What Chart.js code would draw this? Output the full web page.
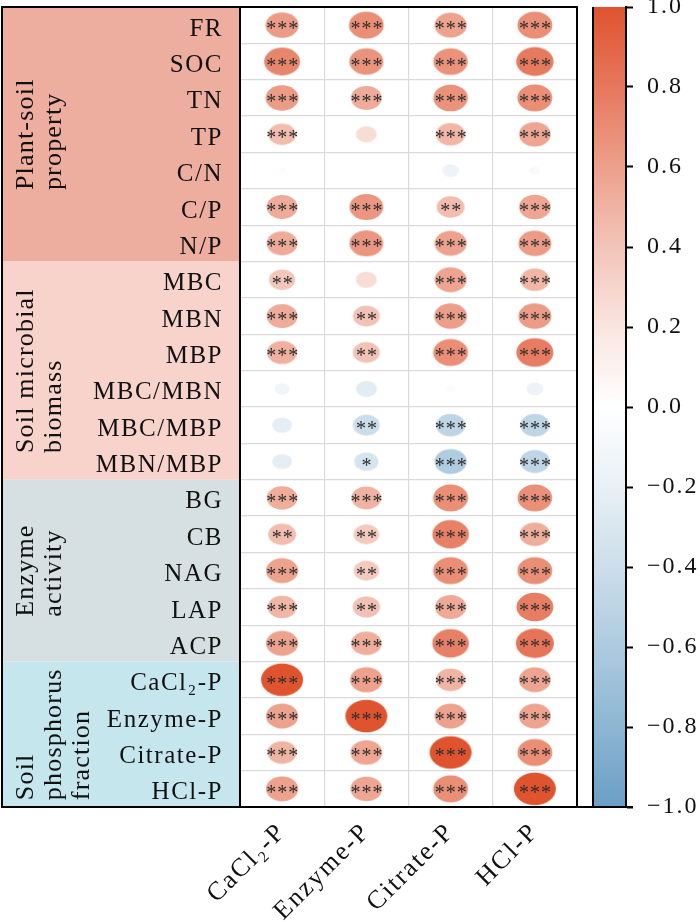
<!DOCTYPE html>
<html>
<head>
<meta charset="utf-8">
<script src="https://cdn.jsdelivr.net/npm/chart.js@4.4.1/dist/chart.umd.min.js"></script>
<style>
  html, body { margin: 0; padding: 0; background: #fff; }
  canvas { display: block; }
</style>
</head>
<body>
<canvas id="corrChart" width="700" height="922"></canvas>
<script>
// rows (y) and columns (x) of the correlation matrix
const rowNames = ["FR", "SOC", "TN", "TP", "C/N", "C/P", "N/P",
  "MBC", "MBN", "MBP", "MBC/MBN", "MBC/MBP", "MBN/MBP",
  "BG", "CB", "NAG", "LAP", "ACP",
  "CaCl₂-P", "Enzyme-P", "Citrate-P", "HCl-P"];
const colNames = ["CaCl₂-P", "Enzyme-P", "Citrate-P", "HCl-P"];

// row groups shown on the left
const groupNames = [["Plant-soil", "property"], ["Soil microbial", "biomass"],
  ["Enzyme", "activity"], ["Soil", "phosphorus", "fraction"]];
const groupSizes = [7, 6, 5, 4];

// correlation coefficients, one list per column
const rCaCl2 = [0.62, 0.73, 0.62, 0.44, 0.04, 0.54, 0.54, 0.39, 0.54, 0.51, -0.13, -0.22, -0.22,
  0.53, 0.44, 0.59, 0.48, 0.59, 1.00, 0.59, 0.49, 0.59];
const rEnzyme = [0.69, 0.66, 0.54, 0.25, 0.01, 0.65, 0.65, 0.25, 0.41, 0.41, -0.25, -0.41, -0.33,
  0.50, 0.37, 0.37, 0.42, 0.53, 0.60, 1.00, 0.57, 0.57];
const rCitrate = [0.59, 0.67, 0.67, 0.48, -0.16, 0.44, 0.59, 0.58, 0.61, 0.69, -0.05, -0.49, -0.59,
  0.69, 0.76, 0.69, 0.55, 0.76, 0.49, 0.59, 1.00, 0.69];
const rHCl = [0.69, 0.79, 0.69, 0.57, -0.07, 0.57, 0.62, 0.48, 0.62, 0.78, -0.16, -0.49, -0.50,
  0.68, 0.53, 0.69, 0.77, 0.82, 0.58, 0.58, 0.69, 1.00];

// significance marks
const sigCaCl2 = ["***", "***", "***", "***", "", "***", "***", "**", "***", "***", "", "", "",
  "***", "**", "***", "***", "***", "***", "***", "***", "***"];
const sigEnzyme = ["***", "***", "***", "", "", "***", "***", "", "**", "**", "", "**", "*",
  "***", "**", "**", "**", "***", "***", "***", "***", "***"];
const sigCitrate = ["***", "***", "***", "***", "", "**", "***", "***", "***", "***", "", "***", "***",
  "***", "***", "***", "***", "***", "***", "***", "***", "***"];
const sigHCl = ["***", "***", "***", "***", "", "***", "***", "***", "***", "***", "", "***", "***",
  "***", "***", "***", "***", "***", "***", "***", "***", "***"];

const cbTicks = [-1.0, -0.8, -0.6, -0.4, -0.2, 0.0, 0.2, 0.4, 0.6, 0.8, 1.0];

const groupColors = ["#EEAE9F", "#F7D3CB", "#D6DFE1", "#C6E6EE"];
const colorStops = [
  [-1.0, [107, 159, 198]], [-0.8, [140, 182, 211]], [-0.6, [173, 203, 223]],
  [-0.4, [204, 222, 234]], [-0.2, [232, 240, 246]], [0.0, [255, 255, 255]],
  [0.2, [250, 229, 223]], [0.4, [243, 196, 184]], [0.6, [237, 160, 139]],
  [0.8, [230, 120, 93]], [1.0, [223, 83, 47]]
];
const serif = "'Liberation Serif', 'Times New Roman', serif";

function corrColor(r) {
  for (let i = 1; i < colorStops.length; i++) {
    const [v1, c1] = colorStops[i];
    if (r <= v1) {
      const [v0, c0] = colorStops[i - 1];
      const t = (r - v0) / (v1 - v0);
      const c = c0.map((ch, k) => Math.round(ch + (c1[k] - ch) * t));
      return `rgb(${c[0]},${c[1]},${c[2]})`;
    }
  }
  return "rgb(223,83,47)";
}

// ellipse marker, area proportional to |r|
const ellipseCache = {};
function ellipseImage(r) {
  const key = r.toFixed(3);
  if (ellipseCache[key]) return ellipseCache[key];
  const a = Math.sqrt(Math.abs(r));
  const w = 42 * a, h = 32.5 * a;
  const c = document.createElement("canvas");
  c.width = 2 * Math.ceil(w / 2 + 2);
  c.height = 2 * Math.ceil(h / 2 + 2);
  const g = c.getContext("2d");
  g.fillStyle = corrColor(r);
  g.beginPath();
  g.ellipse(c.width / 2, c.height / 2, w / 2, h / 2, 0, 0, Math.PI * 2);
  g.fill();
  ellipseCache[key] = c;
  return c;
}

const columns = [[rCaCl2, sigCaCl2], [rEnzyme, sigEnzyme], [rCitrate, sigCitrate], [rHCl, sigHCl]];
const datasets = columns.map(([vals, sigs], j) => ({
  label: colNames[j],
  data: vals.map((v, i) => ({ x: colNames[j], y: rowNames[i], r: v, s: sigs[i] })),
  pointRadius: 3,
  pointStyle: (ctx) => ellipseImage(ctx.raw ? ctx.raw.r : 0.1),
  yAxisID: "y"
}));

const panelPlugin = {
  id: "panel",
  beforeDraw(chart) {
    const { ctx, chartArea, scales } = chart;
    const y = scales.y, cb = scales.cb;
    const half = Math.abs(y.getPixelForValue(1) - y.getPixelForValue(0)) / 2;
    ctx.save();
    // group blocks and their titles
    let start = 0;
    groupSizes.forEach((n, g) => {
      const top = y.getPixelForValue(start) - half;
      const bottom = y.getPixelForValue(start + n - 1) + half;
      ctx.fillStyle = groupColors[g];
      ctx.fillRect(2, top, chartArea.left - 2, bottom - top);
      ctx.font = `26px ${serif}`;
      ctx.letterSpacing = "1.2px";
      ctx.fillStyle = "#111";
      ctx.textAlign = "left";
      ctx.textBaseline = "alphabetic";
      const lines = groupNames[g];
      const longest = Math.max(...lines.map((t) => ctx.measureText(t).width));
      const startY = (top + bottom) / 2 + longest / 2;
      lines.forEach((t, k) => {
        ctx.save();
        ctx.translate(33 + k * 28, startY);
        ctx.rotate(-Math.PI / 2);
        ctx.fillText(t, 0, 0);
        ctx.restore();
      });
      start += n;
    });
    // row labels
    ctx.font = `25px ${serif}`;
    ctx.letterSpacing = "1.5px";
    ctx.textAlign = "right";
    ctx.textBaseline = "middle";
    ctx.fillStyle = "#111";
    rowNames.forEach((name, i) => {
      ctx.fillText(name, chartArea.left - 17, y.getPixelForValue(i) + 4);
    });
    // colour bar
    const grad = ctx.createLinearGradient(0, cb.getPixelForValue(1), 0, cb.getPixelForValue(-1));
    colorStops.forEach(([v]) => grad.addColorStop((1 - v) / 2, corrColor(v)));
    ctx.fillStyle = grad;
    ctx.fillRect(cb.left - 33, cb.getPixelForValue(1), 33, cb.getPixelForValue(-1) - cb.getPixelForValue(1));
    ctx.restore();
    // spacing used by the axis tick labels
    ctx.letterSpacing = "2px";
  },
  afterDatasetsDraw(chart) {
    const ctx = chart.ctx;
    ctx.save();
    ctx.letterSpacing = "0px";
    ctx.font = `20px ${serif}`;
    ctx.fillStyle = "#2e2e2e";
    ctx.textAlign = "center";
    ctx.textBaseline = "alphabetic";
    chart.data.datasets.forEach((ds, di) => {
      chart.getDatasetMeta(di).data.forEach((pt, i) => {
        const n = ds.data[i].s.length;
        for (let k = 0; k < n; k++) {
          ctx.fillText("*", pt.x + (k - (n - 1) / 2) * 11, pt.y + 10);
        }
      });
    });
    ctx.restore();
  },
  afterDraw(chart) {
    const { ctx, chartArea, scales } = chart;
    const cb = scales.cb;
    ctx.save();
    ctx.strokeStyle = "#000";
    ctx.lineWidth = 2;
    ctx.strokeRect(2, chartArea.top, chartArea.right - 2, chartArea.bottom - chartArea.top);
    ctx.beginPath();
    ctx.moveTo(chartArea.left, chartArea.top);
    ctx.lineTo(chartArea.left, chartArea.bottom);
    ctx.moveTo(cb.left - 33, chartArea.top);
    ctx.lineTo(cb.left - 33, chartArea.bottom);
    ctx.moveTo(chartArea.right, chartArea.bottom);
    ctx.lineTo(cb.left + 7, chartArea.bottom);
    ctx.stroke();
    ctx.restore();
  }
};

Chart.defaults.font.family = serif;
Chart.defaults.color = "#111";

new Chart(document.getElementById("corrChart"), {
  type: "scatter",
  data: { datasets },
  options: {
    responsive: false,
    animation: false,
    events: [],
    devicePixelRatio: 1,
    layout: { padding: { top: 7, left: 0, right: 0, bottom: 0 } },
    plugins: { legend: { display: false }, tooltip: { enabled: false } },
    scales: {
      x: {
        type: "category",
        labels: colNames,
        offset: true,
        grid: { offset: true, color: "#dadada", lineWidth: 1.2, drawTicks: false },
        border: { display: true, color: "#000", width: 2 },
        ticks: {
          font: { size: 26 },
          color: "#111",
          minRotation: 45,
          maxRotation: 45,
          autoSkip: false,
          padding: 10
        },
        afterFit: (s) => { s.height = 115; s.paddingLeft = 0; s.paddingRight = 0; }
      },
      y: {
        type: "category",
        labels: rowNames,
        offset: true,
        position: "left",
        grid: { offset: true, color: "#dadada", lineWidth: 1.2, drawTicks: false },
        border: { display: true, color: "#000", width: 2 },
        ticks: { display: false },
        afterFit: (s) => { s.width = 240; s.paddingTop = 0; s.paddingBottom = 0; }
      },
      gap: {
        type: "linear",
        position: "right",
        weight: 0,
        ticks: { display: false },
        grid: { display: false },
        border: { display: false },
        afterFit: (s) => { s.width = 49; s.paddingTop = 0; s.paddingBottom = 0; }
      },
      cb: {
        type: "linear",
        position: "right",
        weight: 1,
        min: -1,
        max: 1,
        afterBuildTicks: (s) => { s.ticks = cbTicks.map((v) => ({ value: v })); },
        ticks: {
          font: { size: 24 },
          color: "#111",
          padding: 14,
          callback: (v) => {
            const r = Math.round(v * 10) / 10;
            return (r < 0 ? "\u2212" : "") + Math.abs(r).toFixed(1);
          }
        },
        grid: { drawOnChartArea: false, tickLength: 7, tickColor: "#000", tickWidth: 2, color: "#000" },
        border: { display: true, color: "#000", width: 2 },
        afterFit: (s) => { s.width = 74; s.paddingTop = 0; s.paddingBottom = 0; }
      }
    }
  },
  plugins: [panelPlugin]
});
</script>
</body>
</html>
